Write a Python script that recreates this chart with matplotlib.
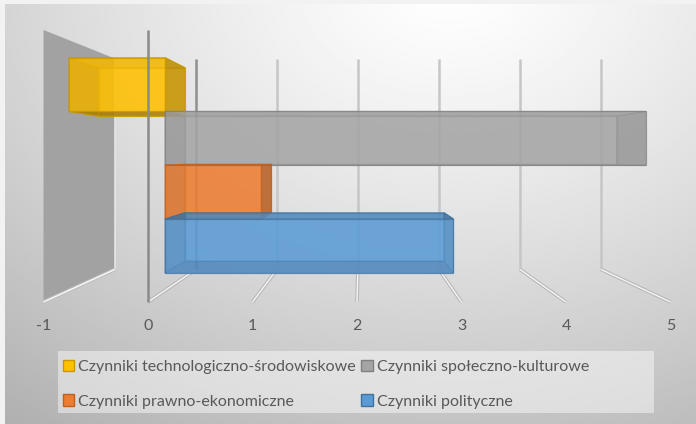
import numpy as np
import matplotlib
matplotlib.use("Agg")
import matplotlib.pyplot as plt
from matplotlib.patches import Polygon, Rectangle, Patch
from matplotlib.colors import to_rgb

# ---- data -------------------------------------------------------------
series = ["Czynniki technologiczno-środowiskowe",
          "Czynniki społeczno-kulturowe",
          "Czynniki prawno-ekonomiczne",
          "Czynniki polityczne"]
values = [-1, 5, 1, 3]
ticks = [-1, 0, 1, 2, 3, 4, 5]

# ---- style ------------------------------------------------------------
colors = ["#FFC000", "#A5A5A5", "#ED7D31", "#5B9BD5"]
edges = ["#C99700", "#7F7F7F", "#C0601E", "#41719C"]
plt.rcParams["font.family"] = ["Lato", "DejaVu Sans"]
TEXT = "#595959"
FS = 11.5

W, H = 696, 424
fig = plt.figure(figsize=(W / 100, H / 100), dpi=100)
fig.patch.set_facecolor("#f2f2f2")

# soft radial background
bg = fig.add_axes([5 / W, 0, 1 - 5 / W, 1 - 4 / H], zorder=0)
gx, gy = np.meshgrid(np.linspace(5, W, 400), np.linspace(4, H, 300))
r = np.hypot((gx - 450) / 620, (gy + 20) / 470)
shade_img = 255 - 64 * np.clip(r, 0, 1.3) ** 1.25
bg.imshow(shade_img, cmap="gray", vmin=0, vmax=255, extent=[0, 1, 0, 1],
          aspect="auto", interpolation="bilinear")
bg.set_axis_off()

# ---- 3-D style plot area ----------------------------------------------
ax = fig.add_axes([43.5 / W, (H - 302) / H, 627 / W, 272 / H], zorder=1)
ax.set_xlim(ticks[0], ticks[-1])
ax.set_ylim(0, 1)
ax.patch.set_alpha(0)
for s in ax.spines.values():
    s.set_visible(False)
ax.set_yticks([])
ax.set_xticks(ticks)
ax.set_xticklabels([str(t) for t in ticks])
ax.tick_params(axis="x", length=0, pad=12.5, labelsize=FS, labelcolor=TEXT)

# perspective: vanishing point and depth scale factors
VX, YE = 2.04, 0.533
K_WALL, K_FRONT, K_BACK = 0.775, 0.92, 0.826


def proj(v, y, k):
    return (VX + (v - VX) * k, YE + (y - YE) * k)


def darker(c, f):
    r_, g_, b_ = to_rgb(c)
    return (r_ * f, g_ * f, b_ * f)


def line3d(p, q, **kw):
    a, b = proj(*p), proj(*q)
    ax.plot([a[0], b[0]], [a[1], b[1]], clip_on=False,
            solid_capstyle="butt", **kw)


# left wall at the axis minimum
vmin = ticks[0]
wall = [proj(vmin, 0, 1), proj(vmin, 1, 1), proj(vmin, 1, K_WALL),
        proj(vmin, 0, K_WALL)]
ax.add_patch(Polygon(wall, closed=True, facecolor="#A2A2A2",
                     edgecolor="none", zorder=1, clip_on=False))
line3d((vmin, 0, K_WALL), (vmin, 1, K_WALL), color="#e6e6e6", lw=1.2, zorder=1.2)
line3d((vmin, 0, K_WALL), (vmin, 0, 1), color="#bdbdbd", lw=2.6, zorder=1.2)
line3d((vmin, 0, K_WALL), (vmin, 0, 1), color="#f5f5f5", lw=1.1, zorder=1.3)

# gridlines on back wall and floor
for t in ticks[1:]:
    c = "#8f8f8f" if t == 0 else "#c6c6c6"
    line3d((t, 0, K_WALL), (t, 1, K_WALL), color=c, lw=1.8, zorder=1.1)
    line3d((t, 0, K_WALL), (t, 0, 1), color="#b8b8b8", lw=2.6, zorder=1.1)
    line3d((t, 0, K_WALL), (t, 0, 1), color="#f5f5f5", lw=1.0, zorder=1.15)

# bars
slot = 0.215
top = 0.93
ALPHA = 0.65
for i, (val, col, edg) in enumerate(zip(values, colors, edges)):
    y1 = top - i * slot
    y0 = y1 - slot
    v0, v1 = min(0, val), max(0, val)
    kf, kb = K_FRONT, K_BACK
    faces = [
        ([(v0, y0, kb), (v1, y0, kb), (v1, y1, kb), (v0, y1, kb)], col),
        ([(v0, y0, kf), (v1, y0, kf), (v1, y0, kb), (v0, y0, kb)], darker(col, 0.55)),
        ([(v0, y1, kf), (v1, y1, kf), (v1, y1, kb), (v0, y1, kb)], darker(col, 0.85)),
        ([(v0, y0, kf), (v0, y1, kf), (v0, y1, kb), (v0, y0, kb)], darker(col, 0.7)),
        ([(v1, y0, kf), (v1, y1, kf), (v1, y1, kb), (v1, y0, kb)], darker(col, 0.7)),
        ([(v0, y0, kf), (v1, y0, kf), (v1, y1, kf), (v0, y1, kf)], col),
    ]
    for pts, fc in faces:
        ax.add_patch(Polygon([proj(*p) for p in pts], closed=True,
                             facecolor=fc, edgecolor=edg, lw=0.9,
                             alpha=ALPHA, zorder=3, clip_on=False))

# value-axis line at zero (front edge)
line3d((0, 0, 1), (0, 1, 1), color="#8a8a8a", lw=1.8, zorder=4)

# ---- legend -----------------------------------------------------------
fig.add_artist(Rectangle((58 / W, (H - 413) / H), 596 / W, 62 / H,
                         transform=fig.transFigure, facecolor="white",
                         edgecolor="none", alpha=0.45, zorder=0.5))
order = [0, 2, 1, 3]
handles = [Patch(facecolor=colors[j], edgecolor=edges[j], lw=1.0) for j in order]
labels = [series[j] for j in order]
fig.legend(handles, labels, ncol=2, loc="upper left",
           bbox_to_anchor=(63 / W, (H - 360) / H), frameon=False,
           borderaxespad=0, borderpad=0, fontsize=FS, labelcolor=TEXT,
           handlelength=0.7, handleheight=0.7, handletextpad=0.25,
           columnspacing=0.35, labelspacing=1.27)

fig.savefig("out.png", dpi=100, facecolor=fig.get_facecolor())
